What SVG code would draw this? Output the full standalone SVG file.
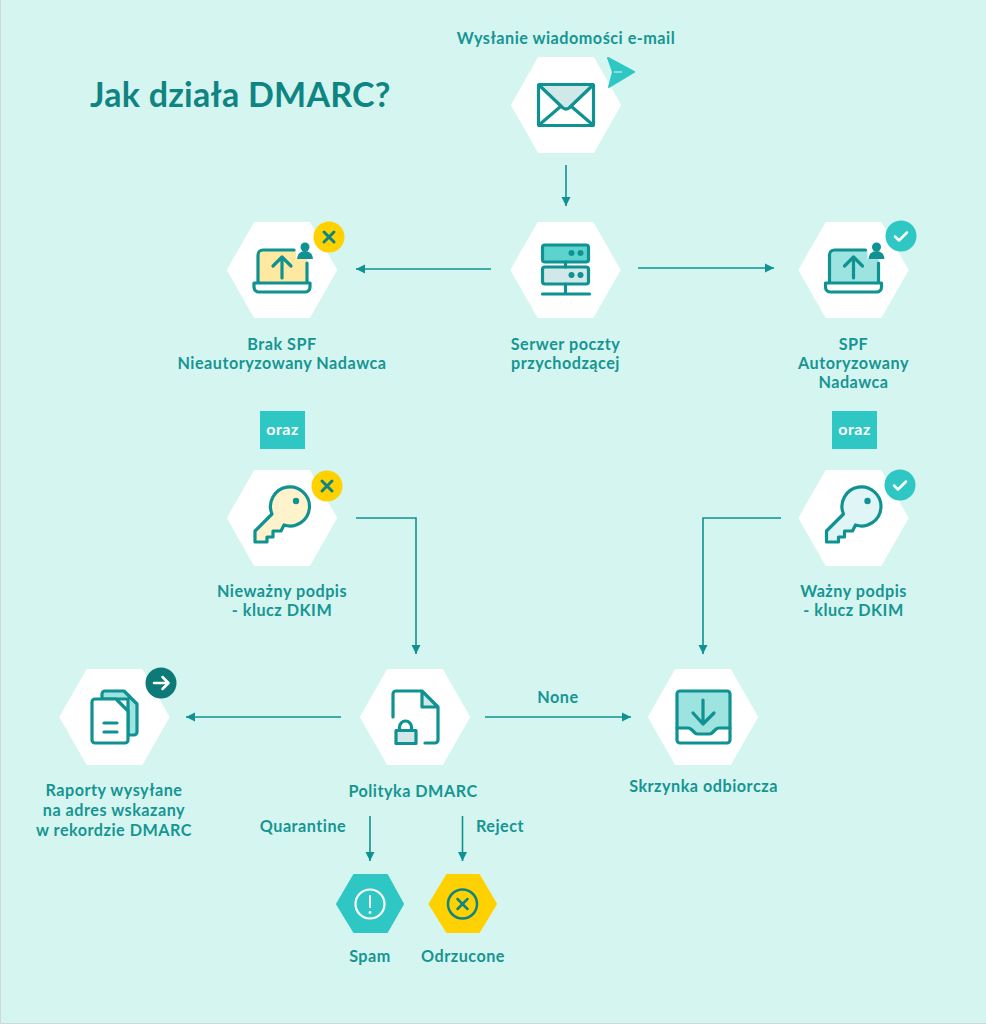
<svg xmlns="http://www.w3.org/2000/svg" width="986" height="1024" viewBox="0 0 986 1024">
<style>
text{font-family:"Lato","Liberation Sans",sans-serif;font-weight:700;fill:#169593;text-anchor:middle;font-size:16.2px;letter-spacing:.5px}
.title{font-size:34px;text-anchor:start;fill:#0f8583;letter-spacing:.25px}
.tag{fill:#fff;font-size:16px}
.hex{fill:#fff;stroke:#fff;stroke-width:3;stroke-linejoin:round}
.sm{stroke-width:2;stroke-linejoin:round}
.i{fill:none;stroke:#0f9291;stroke-width:3.2;stroke-linecap:round;stroke-linejoin:round}
.w{fill:none;stroke:#fff;stroke-width:2.5;stroke-linecap:round;stroke-linejoin:round}
.d{fill:none;stroke:#0f8583;stroke-width:3;stroke-linecap:round;stroke-linejoin:round}
.c{fill:none;stroke:#0f9291;stroke-width:1.6}
</style>
<defs>
<marker id="arrow" markerUnits="userSpaceOnUse" markerWidth="10" markerHeight="10" refX="9" refY="5" orient="auto"><path d="M0 0.5L9 5L0 9.5Z" fill="#0f9291"/></marker>
<polygon id="hx" class="hex" points="-53.5,0 -27,-46.5 27,-46.5 53.5,0 27,46.5 -27,46.5"/>
<g id="laptop">
<path class="i" d="M-24 12V-15a5 5 0 0 1 5-5H12M25 -7V12"/>
<path class="i" d="M-28 13H28V17a5 5 0 0 1-5 5H-23a5 5 0 0 1-5-5Z"/>
<path class="i" d="M0 8V-12M-9 -4L0 -13L9 -4"/>
<circle cx="23" cy="-23" r="4.5" fill="#0f9291"/>
<path d="M15 -11a8 8 0 0 1 16 0Z" fill="#0f9291"/>
</g>
<path id="keyshape" d="M-10 -4L-27 13V24H-15V19H-9V13H-1L2 7A19.5 19.5 0 1 0 -10 -4Z"/>
<g id="xbadge"><circle r="15.5" fill="#ffd100"/><path class="d" d="M-5 -5L5 5M5 -5L-5 5"/></g>
<g id="okbadge"><circle r="15.5" fill="#2ec7c4"/><path class="w" d="M-6 0.5L-2 4.5L6 -3.5"/></g>
</defs>
<rect width="986" height="1024" fill="#d5f5f0"/>
<path d="M0.5 0V1023.500H986" fill="none" stroke="#d0d8d6"/>
<text class="title" x="90" y="107">Jak działa DMARC?</text>

<g id="connectors">
<path class="c" marker-end="url(#arrow)" d="M566 165V206"/>
<path class="c" marker-end="url(#arrow)" d="M491 269H356"/>
<path class="c" marker-end="url(#arrow)" d="M638 268H774"/>
<path class="c" marker-end="url(#arrow)" d="M356 518H416V654"/>
<path class="c" marker-end="url(#arrow)" d="M781 518H703V654"/>
<path class="c" marker-end="url(#arrow)" d="M341 717H186"/>
<path class="c" marker-end="url(#arrow)" d="M485 717H631"/>
<path class="c" marker-end="url(#arrow)" d="M370 816V861"/>
<path class="c" marker-end="url(#arrow)" d="M462.5 816V861"/>
</g>

<g id="email">
<text x="566" y="44">Wysłanie wiadomości e-mail</text>
<use href="#hx" x="566" y="105"/>
<g transform="translate(566 105)">
<path d="M-27 -20H27L0 6Z" fill="#d0e8e8"/>
<rect class="i" x="-27.500" y="-20.500" width="55" height="41" rx="1"/>
<path class="i" d="M-27 -20L-3 3Q0 5 3 3L27 -20M-27 20L-6 2M27 20L6 2"/>
</g>
<path d="M608 58L634 72L609 87L613 72Z" fill="#2ec7c4" stroke="#2ec7c4" stroke-width="2" stroke-linejoin="round"/>
<path d="M614 72H622" stroke="#c9f0ec" stroke-width="1.200"/>
</g>

<g id="server">
<use href="#hx" x="565.500" y="270"/>
<g transform="translate(565.500 270)">
<rect class="i" style="fill:#5dd3ce" x="-23" y="-25" width="46" height="17" rx="2.500"/>
<rect class="i" style="fill:#d0e8e8" x="-23" y="-3" width="46" height="17" rx="2.500"/>
<path class="i" d="M0 -8V-3M0 14V24M-23 24H24"/>
<circle cx="6" cy="-17" r="3" fill="#0f9291"/><circle cx="15" cy="-17" r="3" fill="#0f9291"/>
<circle cx="6" cy="5" r="3" fill="#0f9291"/><circle cx="15" cy="5" r="3" fill="#0f9291"/>
</g>
<text x="565.500" y="350">Serwer poczty</text>
<text x="565.500" y="369">przychodzącej</text>
</g>

<g id="spf-fail">
<use href="#hx" x="282" y="270"/>
<g transform="translate(282 270)">
<path d="M-24 12V-15a5 5 0 0 1 5-5H14V-11H25V12Z" fill="#ffe9a0"/>
<use href="#laptop"/>
</g>
<use href="#xbadge" x="329" y="237"/>
<text x="282" y="350">Brak SPF</text>
<text x="282" y="369">Nieautoryzowany Nadawca</text>
</g>

<g id="spf-ok">
<use href="#hx" x="853.500" y="270"/>
<g transform="translate(853.500 270)">
<path d="M-24 12V-15a5 5 0 0 1 5-5H14V-11H25V12Z" fill="#9de3df"/>
<use href="#laptop"/>
</g>
<use href="#okbadge" x="901" y="236"/>
<text x="853.500" y="350">SPF</text>
<text x="853.500" y="369">Autoryzowany</text>
<text x="853.500" y="388">Nadawca</text>
</g>

<g id="and-left"><rect x="260" y="411" width="45" height="38" fill="#2ec7c4"/><text class="tag" x="282.500" y="435">oraz</text></g>
<g id="and-right"><rect x="832" y="411" width="45" height="38" fill="#2ec7c4"/><text class="tag" x="854.500" y="435">oraz</text></g>

<g id="dkim-fail">
<use href="#hx" x="282" y="518"/>
<g transform="translate(282 518)">
<use href="#keyshape" class="i" style="fill:#fff3cc"/>
<circle cx="14" cy="-17" r="3.200" fill="#0f9291"/>
</g>
<use href="#xbadge" x="327" y="486"/>
<text x="282" y="597">Nieważny podpis</text>
<text x="282" y="616">- klucz DKIM</text>
</g>

<g id="dkim-ok">
<use href="#hx" x="853.500" y="518"/>
<g transform="translate(853.500 518)">
<use href="#keyshape" class="i" style="fill:#dff5f6"/>
<circle cx="14" cy="-17" r="3.200" fill="#0f9291"/>
</g>
<use href="#okbadge" x="900" y="485"/>
<text x="853.500" y="597">Ważny podpis</text>
<text x="853.500" y="616">- klucz DKIM</text>
</g>

<g id="reports">
<use href="#hx" x="114.500" y="717"/>
<path class="i" style="fill:#9de3df" d="M102 699V694a3 3 0 0 1 3-3H124L137 704V732a3 3 0 0 1-3 3H128V699Z"/>
<path class="i" style="fill:#fff" d="M92 702a3 3 0 0 1 3-3H116L128 711V740a3 3 0 0 1-3 3H95a3 3 0 0 1-3-3Z"/>
<path class="i" d="M104 723H117M104 732H117"/>
<circle cx="161" cy="683" r="15.500" fill="#0d7a78"/>
<path class="w" d="M154 683H168M162.500 677L168.500 683L162.500 689"/>
<text x="114" y="796">Raporty wysyłane</text>
<text x="114" y="816">na adres wskazany</text>
<text x="114" y="836">w rekordzie DMARC</text>
</g>

<g id="policy">
<use href="#hx" x="415" y="717"/>
<path d="M422 691L438 707H422Z" fill="#d0e8e8"/>
<path class="i" d="M393 717V694a3 3 0 0 1 3-3H422L438 707V740a3 3 0 0 1-3 3H425M422 691V707H438"/>
<path class="i" d="M399.500 730V727a6 6 0 0 1 12 0V730"/>
<rect class="i" style="fill:#d0e8e8" x="396" y="730.500" width="20" height="13"/>
<text x="413" y="797">Polityka DMARC</text>
<text x="303" y="832">Quarantine</text>
<text x="500" y="832">Reject</text>
<text x="558" y="703">None</text>
</g>

<g id="inbox">
<use href="#hx" x="703" y="717"/>
<path d="M677 728H690L697 734H711L717 728H730V694a3 3 0 0 0-3-3H680a3 3 0 0 0-3 3Z" fill="#9de3df"/>
<rect class="i" x="677" y="691" width="53" height="52" rx="3"/>
<path class="i" d="M677 728H688Q690 728 692 730L695 733Q696 734 698 734H709Q711 734 712 733L715 730Q717 728 719 728H730"/>
<path class="i" d="M703 700V724M693 713L703 724L714 713"/>
<text x="703.500" y="792">Skrzynka odbiorcza</text>
</g>

<g id="spam">
<polygon class="sm" fill="#2ec7c4" stroke="#2ec7c4" points="337,904 354,875 387,875 403,904 387,932 354,932"/>
<circle cx="370" cy="904" r="14.500" fill="none" stroke="#fff" stroke-width="2.200"/>
<path class="w" style="stroke-width:2" d="M370 896V907"/>
<circle cx="370" cy="912.500" r="1.400" fill="#fff"/>
<text x="370" y="962">Spam</text>
</g>

<g id="rejected">
<polygon class="sm" fill="#ffd100" stroke="#ffd100" points="429.500,904 447,875 479,875 496,904 479,932 447,932"/>
<circle cx="462.500" cy="904" r="14.500" fill="none" stroke="#0f8583" stroke-width="2.500"/>
<path class="d" style="stroke-width:2.500" d="M457.500 899L467.500 909M467.500 899L457.500 909"/>
<text x="463" y="962">Odrzucone</text>
</g>
</svg>
